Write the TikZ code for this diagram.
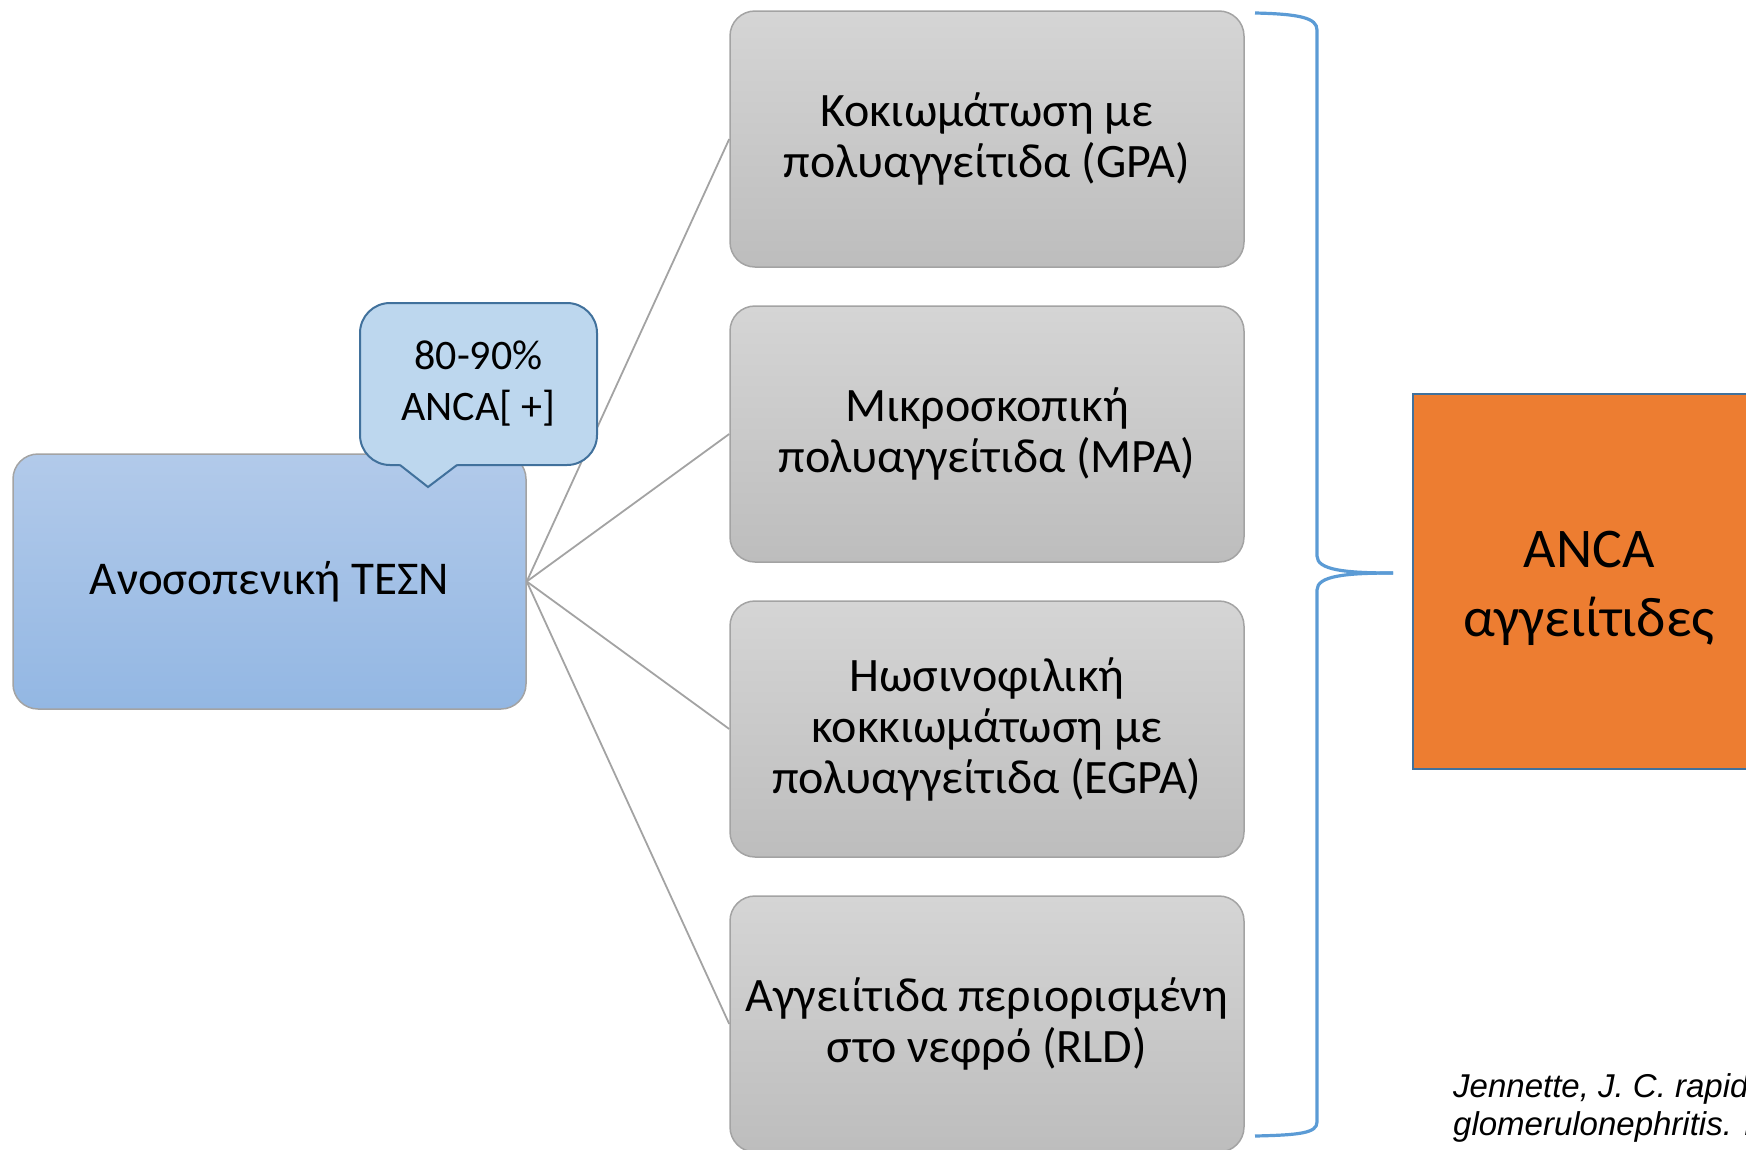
\documentclass[tikz,border=0pt]{standalone}
\usepackage{fontspec}
\setmainfont{Carlito}
\newfontfamily\citefont{Liberation Sans}
\definecolor{greytop}{HTML}{D5D5D5}
\definecolor{greybot}{HTML}{BDBDBD}
\definecolor{greyline}{HTML}{A3A3A3}
\definecolor{bluetop}{HTML}{B2CAEA}
\definecolor{bluebot}{HTML}{93B7E3}
\definecolor{calloutfill}{HTML}{BDD7EE}
\definecolor{darkblue}{HTML}{41719C}
\definecolor{bracecol}{HTML}{5B9BD5}
\definecolor{ancaorange}{HTML}{ED7D31}
\begin{document}
\begin{tikzpicture}[x=1pt,y=-1pt,
  disease/.style={draw=greyline,line width=1.5pt,rounded corners=25pt,
    top color=greytop,bottom color=greybot,minimum width=514pt,
    minimum height=256pt,align=center,inner sep=0pt,
    font=\fontsize{48}{51}\selectfont},
  group/.style={draw=greyline,line width=1.5pt,rounded corners=25pt,
    top color=bluetop,bottom color=bluebot,minimum width=513pt,
    minimum height=255pt,inner sep=0pt,font=\fontsize{47}{51}\selectfont},
  balloon/.style={draw=darkblue,line width=2pt,fill=calloutfill,
    rounded corners=30pt,minimum width=237pt,minimum height=162pt,
    align=center,inner sep=0pt,font=\fontsize{42}{51}\selectfont},
  result/.style={draw=darkblue,line width=2pt,fill=ancaorange,
    minimum width=352pt,minimum height=375pt,inner sep=0pt},
  resulttext/.style={align=center,yshift=-7pt,
    font=\fontsize{56}{69}\selectfont},
  branch/.style={draw=greyline,line width=1.8pt},
  brace/.style={draw=bracecol,line width=3.2pt},
  cite/.style={anchor=base west,inner sep=0pt,
    font=\citefont\itshape\fontsize{33}{38}\selectfont}]
\useasboundingbox (0,0) rectangle (1746,1149);
\clip (0,0) rectangle (1746,1149);

% left box and the four types
\node[group] (imm) at (269.5,581.5) {Ανοσοπενική ΤΕΣΝ};
\node[disease] (gpa) at (987,139) {Κοκιωμάτωση με\\πολυαγγείτιδα (GPA)};
\node[disease] (mpa) at (987,434) {Μικροσκοπική\\πολυαγγείτιδα (MPA)};
\node[disease] (egpa) at (987,729) {Ηωσινοφιλική\\κοκκιωμάτωση με\\πολυαγγείτιδα (EGPA)};
\node[disease] (rld) at (987,1024) {Αγγειίτιδα περιορισμένη\\στο νεφρό (RLD)};

\foreach \t in {gpa,mpa,egpa,rld}
  \draw[branch] (imm.east) -- (\t.west);

% callout
\node[balloon] (pct) at (478.5,384) {80-90\%\\ANCA[ +]};
\fill[calloutfill] (397,462) -- (460,462) -- (428,486) -- cycle;
\draw[draw=darkblue,line width=2pt,line join=miter]
  (400,465) -- (428,487) -- (457,465);

% brace
\draw[brace] (1255,13) .. controls (1300,14) and (1317,18) .. (1317,30)
  -- (1317,556) .. controls (1317,570) and (1345,573) .. (1393,573);
\draw[brace] (1393,573) .. controls (1345,573) and (1317,576) .. (1317,590)
  -- (1317,1122) .. controls (1317,1133) and (1300,1135) .. (1255,1136);

\node[result,label={[resulttext]center:ANCA\\αγγειίτιδες}] (anca) at (1589,581.5) {};

\node[cite] (cite1) at (1453,1097) {Jennette, J. C. rapid};
\node[cite] (cite2) at (1453,1135) {glomerulonephritis. K};
\end{tikzpicture}
\end{document}
